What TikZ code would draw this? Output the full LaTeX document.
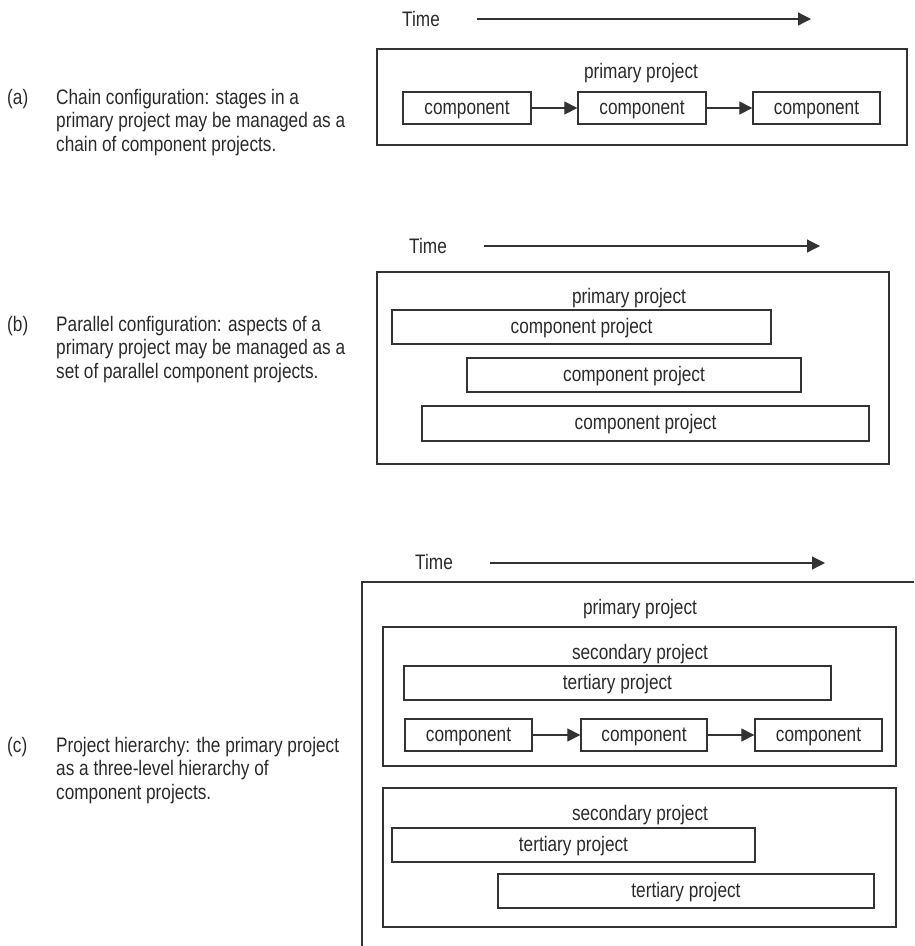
\documentclass[tikz,border=0pt]{standalone}
\usepackage{fontspec}
\setmainfont{Liberation Sans}[FakeStretch=0.82]
\usetikzlibrary{arrows.meta}
\definecolor{lnc}{HTML}{333333}
\definecolor{txtc}{HTML}{2A2A2A}
\begin{document}
\begin{tikzpicture}[x=1pt,y=-1pt,
  every node/.style={font=\fontsize{21pt}{25pt}\selectfont, text=txtc},
  box/.style={draw=lnc, line width=1.3pt, inner sep=0pt, text height=12pt, text depth=0pt},
  lbl/.style={inner sep=0pt, text height=12pt, text depth=0pt},
  ln/.style={inner sep=0pt, anchor=base west},
  arr/.style={draw=lnc, line width=1.2pt, -{Triangle[length=13pt,width=13pt]}},
  outer/.style={draw=lnc, line width=1.3pt}
]
\useasboundingbox (0,0) rectangle (914,946);
\newcommand\mybox[6]{\node[box, minimum width={#4-#2}, minimum height={#5-#3}] (#1) at ({(#2+#4)/2},{(#3+#5)/2}) {#6};}

% ---------------- (a) ----------------
\node[ln] (timeA) at (402,26) {Time};
\coordinate (ta1) at (477,19);
\coordinate (ta2) at (811,19);
\draw[arr] (ta1) -- (ta2);
\mybox{outA}{377}{49}{907}{145}{}
\node[lbl] (pA) at (641,72) {primary project};
\mybox{ca1}{403}{92}{531}{124}{component}
\mybox{ca2}{578}{92}{706}{124}{component}
\mybox{ca3}{753}{92}{880}{124}{component}
\draw[arr] (ca1) -- (ca2);
\draw[arr] (ca2) -- (ca3);

\node[ln] (la) at (7,104) {(a)};
\node[ln] (la1) at (56,104) {Chain configuration: stages in a};
\node[ln] (la2) at (56,127.5) {primary project may be managed as a};
\node[ln] (la3) at (56,151) {chain of component projects.};

% ---------------- (b) ----------------
\node[ln] (timeB) at (409,253) {Time};
\coordinate (tb1) at (484,246);
\coordinate (tb2) at (820,246);
\draw[arr] (tb1) -- (tb2);
\mybox{outB}{377}{272}{889}{464}{}
\node[lbl] (pB) at (629,297) {primary project};
\mybox{cb1}{392}{310}{771}{344}{component project}
\mybox{cb2}{467}{358}{801}{392}{component project}
\mybox{cb3}{422}{406}{869}{441}{component project}

\node[ln] (lb) at (7,331) {(b)};
\node[ln] (lb1) at (56,331) {Parallel configuration: aspects of a};
\node[ln] (lb2) at (56,354.5) {primary project may be managed as a};
\node[ln] (lb3) at (56,378) {set of parallel component projects.};

% ---------------- (c) ----------------
\node[ln] (timeC) at (415,569) {Time};
\coordinate (tc1) at (490,563);
\coordinate (tc2) at (825,563);
\draw[arr] (tc1) -- (tc2);
\coordinate (oc1) at (914,582);
\coordinate (oc2) at (362,582);
\coordinate (oc3) at (362,946);
\draw[outer] (oc1) -- (oc2) -- (oc3);
\node[lbl] (pC) at (640,608) {primary project};

\mybox{s1}{383}{627}{896}{766}{}
\node[lbl] (s1t) at (640,653) {secondary project};
\mybox{t1}{404}{666}{831}{700}{tertiary project}
\mybox{cc1}{405}{719}{532}{751}{component}
\mybox{cc2}{581}{719}{707}{751}{component}
\mybox{cc3}{755}{719}{882}{751}{component}
\draw[arr] (cc1) -- (cc2);
\draw[arr] (cc2) -- (cc3);

\mybox{s2}{383}{788}{896}{927}{}
\node[lbl] (s2t) at (640,814) {secondary project};
\mybox{t2}{392}{828}{755}{862}{tertiary project}
\mybox{t3}{498}{874}{874}{908}{tertiary project}

\node[ln] (lc) at (7,752) {(c)};
\node[ln] (lc1) at (56,752) {Project hierarchy: the primary project};
\node[ln] (lc2) at (56,775.5) {as a three-level hierarchy of};
\node[ln] (lc3) at (56,799) {component projects.};
\end{tikzpicture}
\end{document}
